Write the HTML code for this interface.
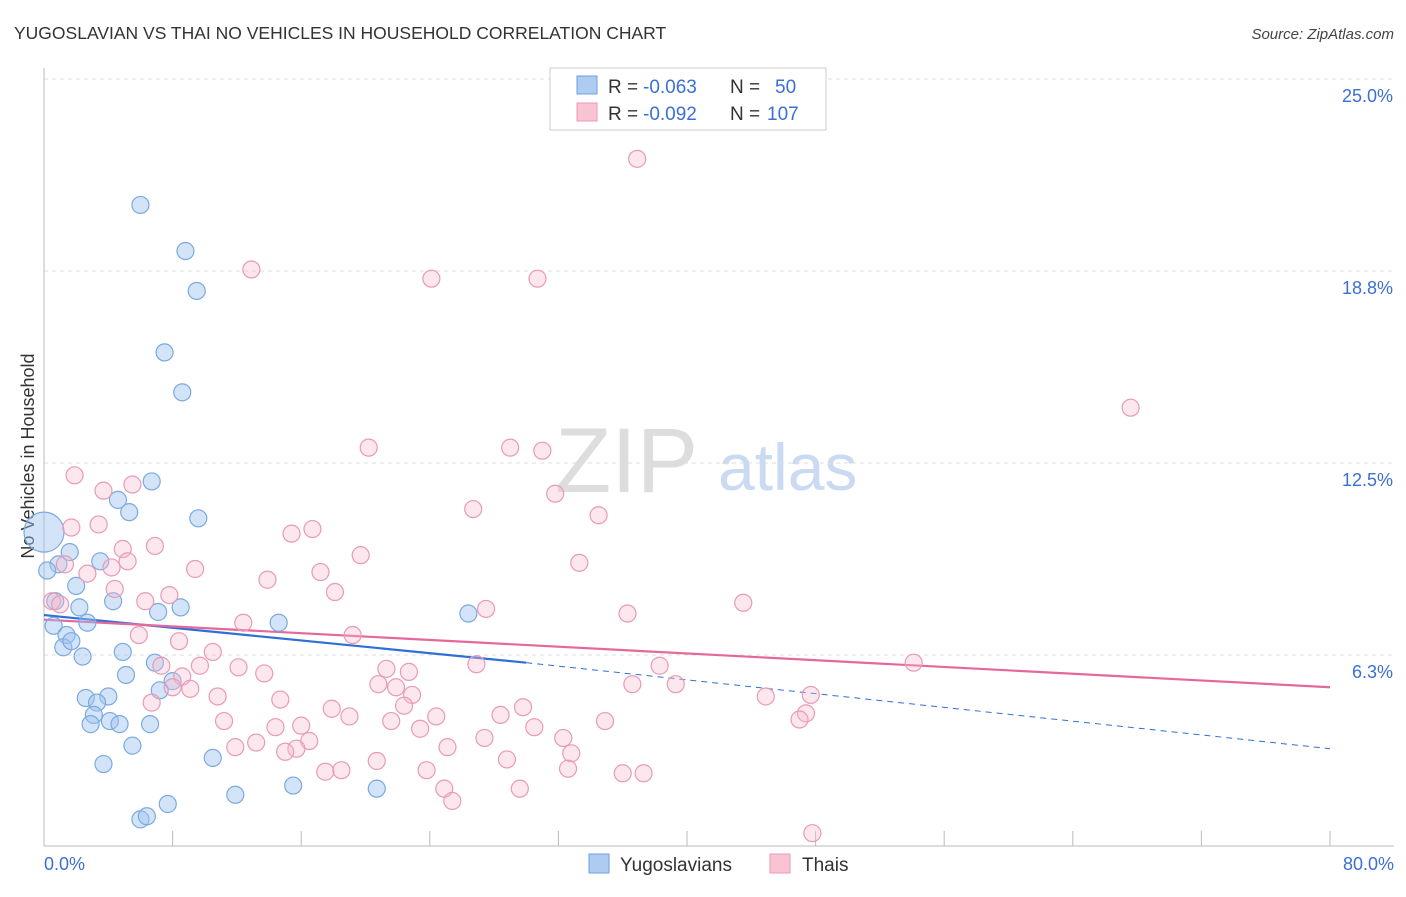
<!DOCTYPE html>
<html><head><meta charset="utf-8"><style>
body{margin:0;background:#fff;font-family:"Liberation Sans",sans-serif;}
svg text{font-family:"Liberation Sans",sans-serif;}
</style></head><body>
<svg id="chart" width="1406" height="892" xmlns="http://www.w3.org/2000/svg">
<text x="14" y="39" font-size="17.5" fill="#333">YUGOSLAVIAN VS THAI NO VEHICLES IN HOUSEHOLD CORRELATION CHART</text>
<text x="1394" y="39" font-size="15" fill="#444" font-style="italic" text-anchor="end">Source: ZipAtlas.com</text>
<g>
<text x="555" y="492" font-size="92" fill="#ddd" font-family="Liberation Serif,serif">ZIP</text>
<text x="718" y="490" font-size="66" fill="#c9daf2">atlas</text>
</g>
<text transform="translate(34,456) rotate(-90)" font-size="18" fill="#333" text-anchor="middle">No Vehicles in Household</text>
<g id="grid"></g><g id="axes"></g><g id="trends"></g><g id="points"></g>
<g>
<rect x="550" y="68" width="276" height="62" fill="#fff" stroke="#ccc"/>
<rect x="577" y="76" width="20" height="18" fill="#aecbf2" stroke="#6d9fe0"/>
<rect x="577" y="103" width="20" height="18" fill="#f8c4d4" stroke="#e89ab4"/>
<text x="608" y="93" font-size="19" fill="#333">R =</text>
<text x="643" y="93" font-size="19" fill="#3b6fd4">-0.063</text>
<text x="730" y="93" font-size="19" fill="#333">N =</text>
<text x="775" y="93" font-size="19" fill="#3b6fd4">50</text>
<text x="608" y="120" font-size="19" fill="#333">R =</text>
<text x="643" y="120" font-size="19" fill="#3b6fd4">-0.092</text>
<text x="730" y="120" font-size="19" fill="#333">N =</text>
<text x="767" y="120" font-size="19" fill="#3b6fd4">107</text>
</g>
<g>
<rect x="589" y="854" width="20" height="19" fill="#aecbf2" stroke="#6d9fe0"/>
<text x="620" y="871" font-size="19" fill="#333">Yugoslavians</text>
<rect x="770" y="854" width="20" height="19" fill="#f8c4d4" stroke="#e89ab4"/>
<text x="802" y="871" font-size="19" fill="#333">Thais</text>
</g>
</svg>
<script>
const yTicks=[6.25,12.5,18.75,25];
const yTickLabels=["6.3%","12.5%","18.8%","25.0%"];
const xTicks=[0,8,16,24,32,40,48,56,64,72,80];
const blueX=[6.0,8.8,9.5,7.5,8.6,6.7,4.6,5.3,9.6,0,1.6,3.5,0.9,0.2,2.0,0.7,4.3,2.2,7.1,8.5,2.7,0.6,14.6,26.4,1.4,1.2,1.7,2.4,4.9,6.9,8.0,7.2,5.1,2.6,4.0,3.3,3.1,2.9,4.1,4.7,6.6,5.5,3.7,10.5,11.9,15.5,20.7,7.7,6.0,6.4];
const blueY=[20.9,19.4,18.1,16.1,14.8,11.9,11.3,10.9,10.7,10.25,9.6,9.3,9.2,9.0,8.5,8.0,8.0,7.8,7.65,7.8,7.3,7.2,7.3,7.6,6.9,6.5,6.7,6.2,6.35,6.0,5.4,5.1,5.6,4.85,4.9,4.7,4.3,4.0,4.1,4.0,4.0,3.3,2.7,2.9,1.7,2.0,1.9,1.4,0.9,1.0];
const pinkX=[36.9,12.9,24.1,30.7,67.6,20.2,29.0,31.0,1.9,3.7,5.5,31.8,26.7,34.5,1.7,3.4,15.4,16.7,6.9,4.9,5.2,19.7,33.3,1.3,2.7,4.2,9.4,17.2,13.9,4.4,18.1,0.5,6.3,7.8,1.0,43.5,27.5,36.3,12.4,5.9,8.4,19.2,10.5,7.3,9.7,12.1,26.9,38.3,54.1,13.7,21.3,22.7,8.6,8.0,9.1,20.8,21.9,36.6,39.3,22.9,10.8,14.7,6.7,44.9,47.7,17.9,22.4,29.8,11.2,19.0,21.6,24.4,28.4,34.9,47.4,47.0,14.4,16.0,30.5,11.9,13.2,16.5,15.7,15.0,23.4,27.4,25.1,32.3,32.8,20.7,28.8,17.5,18.5,23.8,32.6,36.0,37.3,24.9,25.4,29.6,47.8];
const pinkY=[22.4,18.8,18.5,18.5,14.3,13.0,13.0,12.9,12.1,11.6,11.8,11.5,11.0,10.8,10.4,10.5,10.2,10.35,9.8,9.7,9.3,9.5,9.25,9.2,8.9,9.1,9.05,8.95,8.7,8.4,8.3,8.0,8.0,8.2,7.9,7.95,7.75,7.6,7.3,6.9,6.7,6.9,6.35,5.9,5.9,5.85,5.95,5.9,6.0,5.65,5.8,5.7,5.55,5.2,5.15,5.3,5.2,5.3,5.3,4.95,4.9,4.8,4.7,4.9,4.95,4.5,4.6,4.55,4.1,4.25,4.1,4.25,4.3,4.1,4.35,4.15,3.9,3.95,3.9,3.25,3.4,3.45,3.2,3.1,3.85,3.55,3.25,3.55,3.05,2.8,2.85,2.45,2.5,2.5,2.55,2.4,2.4,1.9,1.5,1.9,0.45];
const blueTrendX=[0,30,80];
const blueTrendY=[7.55,6.0,3.2];
const pinkTrendX=[0,80];
const pinkTrendY=[7.4,5.2];
const NS="http://www.w3.org/2000/svg";
const sx=v=>44+v*(1286/80);
const sy=v=>847-v*(768/25);
function mk(tag,attrs,parent){const e=document.createElementNS(NS,tag);for(const k in attrs)e.setAttribute(k,attrs[k]);document.getElementById(parent).appendChild(e);return e;}
yTicks.forEach((t,i)=>{
 const l=mk('line',{x1:44,x2:1394,y1:sy(t),y2:sy(t),stroke:'#ddd','stroke-dasharray':'4,4'},'grid');
 
 
 const tx=mk('text',{x:1393,y:sy(t)+23,'font-size':18,fill:'#3b6fd4','text-anchor':'end'},'grid');
 tx.textContent=yTickLabels[i];
 
 
});
const topLine=mk('line',{x1:44,x2:1394,y1:79,y2:79,stroke:'#ddd','stroke-dasharray':'4,4'},'grid');


const ya=mk('line',{x1:44,x2:44,y1:68,y2:846,stroke:'#bbb'},'axes');


const xa=mk('line',{x1:44,x2:1394,y1:846,y2:846,stroke:'#bbb'},'axes');


xTicks.forEach(t=>{
 const l=mk('line',{x1:sx(t),x2:sx(t),y1:831,y2:846,stroke:'#bbb'},'axes');
 
 
});
const xl0=mk('text',{x:44,y:870,'font-size':18,fill:'#3b6fd4'},'axes');xl0.textContent='0.0%';


const xl1=mk('text',{x:1394,y:870,'font-size':18,fill:'#3b6fd4','text-anchor':'end'},'axes');xl1.textContent='80.0%';


blueX.forEach((x,i)=>{
 const c=mk('circle',{cx:sx(x),cy:sy(blueY[i]),r:(x===0?20:8.5),fill:'rgba(160,196,240,0.45)',stroke:'#7aaae0','stroke-width':1.2},'points');
 
 
});
pinkX.forEach((x,i)=>{
 const c=mk('circle',{cx:sx(x),cy:sy(pinkY[i]),r:8.5,fill:'rgba(247,185,205,0.35)',stroke:'#e99ab5','stroke-width':1.2},'points');
 
 
});
const b1=mk('line',{x1:sx(blueTrendX[0]),y1:sy(blueTrendY[0]),x2:sx(blueTrendX[1]),y2:sy(blueTrendY[1]),stroke:'#2f6fd8','stroke-width':2.2},'trends');


const b2=mk('line',{x1:sx(blueTrendX[1]),y1:sy(blueTrendY[1]),x2:sx(blueTrendX[2]),y2:sy(blueTrendY[2]),stroke:'#2f6fd8','stroke-width':1,'stroke-dasharray':'6,5'},'trends');


const p1=mk('line',{x1:sx(pinkTrendX[0]),y1:sy(pinkTrendY[0]),x2:sx(pinkTrendX[1]),y2:sy(pinkTrendY[1]),stroke:'#e5689a','stroke-width':2.2},'trends');


</script>
</body></html>
